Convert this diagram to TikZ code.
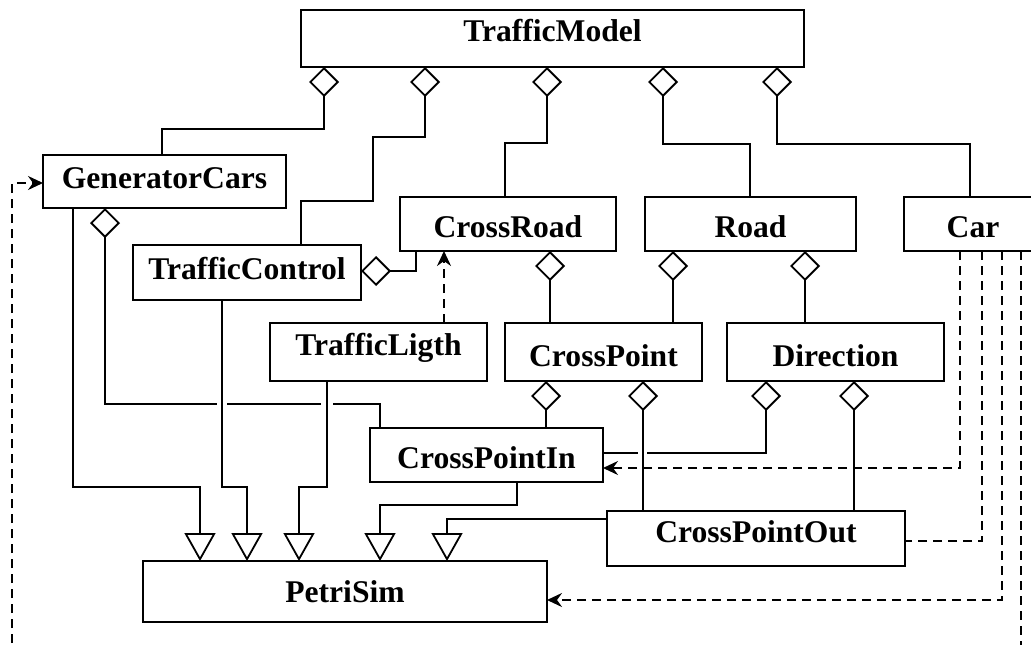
\documentclass[tikz,border=0pt]{standalone}
\usepackage{fontspec}
\setmainfont{Liberation Serif}[Ligatures=CommonOff]
\usetikzlibrary{arrows.meta}
\begin{document}
\begin{tikzpicture}[x=1pt,y=-1pt,
  cls/.style={draw, line width=2pt, inner sep=0pt, outer sep=0pt, anchor=north west,
    font=\bfseries\fontsize{31.6}{36}\selectfont},
  agg/.style={line width=1.8pt, {Diamond[open, length=30pt, width=30pt]}-},
  gen/.style={line width=1.8pt, -{Triangle[open, length=28pt, width=31pt]}},
  dep/.style={line width=1.8pt, dash pattern=on 9pt off 6pt, -{Stealth[length=15pt, width=14pt, inset=5pt]}},
  depn/.style={line width=1.8pt, dash pattern=on 9pt off 6pt}]
\useasboundingbox (0,0) rectangle (1031,645);
\clip (0,0) rectangle (1031,645);

% classes
\node[cls, minimum width=503pt, text height=31pt, text depth=26pt] (tm)  at (301,10)  {TrafficModel};
\node[cls, minimum width=243pt, text height=33pt, text depth=20pt] (gc)  at (43,155)  {GeneratorCars};
\node[cls, minimum width=216pt, text height=40pt, text depth=14pt] (cr)  at (400,197) {CrossRoad};
\node[cls, minimum width=211pt, text height=40pt, text depth=14pt] (rd)  at (645,197) {Road};
\node[cls, minimum width=138pt, text height=40pt, text depth=14pt] (car) at (904,197) {Car};
\node[cls, minimum width=228pt, text height=34pt, text depth=21pt] (tc)  at (133,245) {TrafficControl};
\node[cls, minimum width=217pt, text height=32pt, text depth=26pt] (tl)  at (270,323) {TrafficLigth};
\node[cls, minimum width=197pt, text height=43pt, text depth=15pt] (cp)  at (505,323) {CrossPoint};
\node[cls, minimum width=217pt, text height=43pt, text depth=15pt] (dir) at (727,323) {Direction};
\node[cls, minimum width=233pt, text height=40pt, text depth=14pt] (cpi) at (370,428) {CrossPointIn};
\node[cls, minimum width=298pt, text height=31pt, text depth=24pt] (cpo) at (607,511) {CrossPointOut};
\node[cls, minimum width=404pt, text height=41pt, text depth=20pt] (ps)  at (143,561) {PetriSim};

% aggregations from TrafficModel
\draw[agg] (324,0 |- tm.south) -- (324,129) -| (162,0 |- gc.north);
\draw[agg] (425,0 |- tm.south) -- (425,137) -- (373,137) -- (373,201) -| (301,0 |- tc.north);
\draw[agg] (547,0 |- tm.south) -- (547,143) -| (505,0 |- cr.north);
\draw[agg] (663,0 |- tm.south) -- (663,144) -| (750,0 |- rd.north);
\draw[agg] (777,0 |- tm.south) -- (777,144) -| (970,0 |- car.north);

% other aggregations
\draw[agg] (tc.east |- 0,271) -- (416,271) -- (416,0 |- cr.south);
\draw[agg] (550,0 |- cr.south) -- (550,0 |- cp.north);
\draw[agg] (673,0 |- rd.south) -- (673,0 |- cp.north);
\draw[agg] (805,0 |- rd.south) -- (805,0 |- dir.north);
\draw[agg] (546,0 |- cp.south) -- (546,0 |- cpi.north);
\draw[agg] (854,0 |- dir.south) -- (854,0 |- cpo.north);
\draw[agg] (766,0 |- dir.south) -- (766,453) -- (cpi.east |- 0,453);
\draw[agg] (105,0 |- gc.south) -- (105,404) -| (380,0 |- cpi.north);

% gaps at crossings
\fill[white] (217,400) rectangle (227,408);
\fill[white] (321,400) rectangle (333,408);
\fill[white] (638,449) rectangle (647,457);

\draw[agg] (643,0 |- cp.south) -- (643,0 |- cpo.north);

% dependency TrafficLigth -> CrossRoad
\draw[dep] (444,0 |- tl.north) -- (444,0 |- cr.south);

% generalizations
\draw[gen] (73,0 |- gc.south) -- (73,487) -| (200,0 |- ps.north);
\draw[gen] (222,0 |- tc.south) -- (222,487) -| (247,0 |- ps.north);
\draw[gen] (327,0 |- tl.south) -- (327,487) -| (299,0 |- ps.north);
\draw[gen] (517,0 |- cpi.south) -- (517,505) -| (380,0 |- ps.north);
\draw[gen] (cpo.west |- 0,519) -| (447,0 |- ps.north);

% dependencies from Car
\draw[dep]  (960,0 |- car.south) |- (cpi.east |- 0,468);
\draw[depn] (982,0 |- car.south) |- (cpo.east |- 0,541);
\draw[dep]  (1002,0 |- car.south) |- (ps.east |- 0,600);
\draw[dep]  (1021,0 |- car.south) -- (1021,670) -- (12,670) |- (gc.west |- 0,183);
\end{tikzpicture}
\end{document}
